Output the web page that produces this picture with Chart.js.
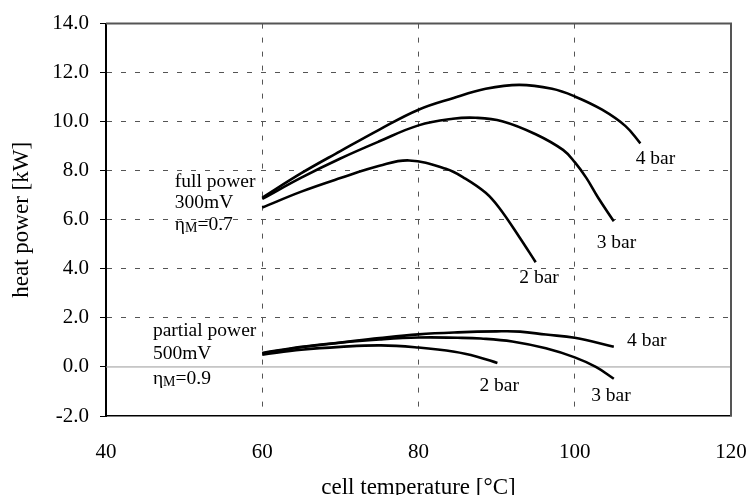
<!DOCTYPE html>
<html>
<head>
<meta charset="utf-8">
<script src="https://cdn.jsdelivr.net/npm/chart.js@4/dist/chart.umd.min.js"></script>
<style>
  html, body { margin: 0; padding: 0; background: #fff; }
</style>
</head>
<body>
<canvas id="heatChart" width="750" height="495"></canvas>
<script>
// full power (300 mV)
const full4X = [60, 65, 70, 75, 80, 84.4, 88.6, 92.9, 97.1, 100, 103.5, 106.5, 108.4];
const full4Y = [6.9, 7.9, 8.8, 9.68, 10.49, 10.96, 11.34, 11.5, 11.34, 11.03, 10.49, 9.82, 9.12];
const full3X = [60, 65, 70, 75, 80, 84.4, 87.3, 90.7, 95, 98.5, 100, 101.5, 103, 105];
const full3Y = [6.85, 7.72, 8.5, 9.2, 9.85, 10.12, 10.16, 10.02, 9.49, 8.85, 8.35, 7.7, 6.9, 5.94];
const full2X = [60, 65, 70, 75, 78.8, 83.5, 86, 88.6, 90.3, 92.9, 95];
const full2Y = [6.5, 7.15, 7.7, 8.2, 8.42, 8.08, 7.68, 7.1, 6.5, 5.3, 4.27];

// partial power (500 mV)
const part4X = [60, 65, 70, 75, 80, 85, 90, 93, 96.3, 100, 105];
const part4Y = [0.57, 0.82, 1.0, 1.18, 1.33, 1.41, 1.45, 1.44, 1.32, 1.19, 0.82];
const part3X = [60, 65, 70, 75, 80, 85, 88, 92, 96.3, 100, 102.7, 105];
const part3Y = [0.55, 0.8, 0.99, 1.12, 1.2, 1.19, 1.16, 1.04, 0.76, 0.39, 0.0, -0.48];
const part2X = [60, 65, 70, 75.2, 80, 84.6, 87.5, 90.1];
const part2Y = [0.5, 0.7, 0.82, 0.88, 0.79, 0.62, 0.42, 0.16];

const xTicks = [40, 60, 80, 100, 120];
const yTicks = [-2, 0, 2, 4, 6, 8, 10, 12, 14];

const serif = '"Liberation Serif", "DejaVu Serif", serif';

function toPoints(xs, ys) {
  return xs.map((x, i) => ({ x: x, y: ys[i] }));
}

function curve(label, xs, ys) {
  return {
    label: label,
    data: toPoints(xs, ys),
    borderColor: "#000",
    borderWidth: 2.6,
    pointRadius: 0,
    fill: false,
    tension: 0.4,
  };
}

// text notes placed in data units
const notes = [
  { x: 107.8, y: 8.49, parts: [{ t: "4 bar" }] },
  { x: 102.8, y: 5.07, parts: [{ t: "3 bar" }] },
  { x: 92.9, y: 3.65, parts: [{ t: "2 bar" }] },
  { x: 106.7, y: 1.06, parts: [{ t: "4 bar" }] },
  { x: 87.8, y: -0.77, parts: [{ t: "2 bar" }] },
  { x: 102.1, y: -1.17, parts: [{ t: "3 bar" }] },
  { x: 48.8, y: 7.54, parts: [{ t: "full power" }] },
  { x: 48.8, y: 6.68, parts: [{ t: "300mV" }] },
  { x: 48.8, y: 5.8, parts: [{ t: "η" }, { t: "M", sub: true }, { t: "=0.7" }] },
  { x: 46.0, y: 1.46, parts: [{ t: "partial power" }] },
  { x: 46.0, y: 0.55, parts: [{ t: "500mV" }] },
  { x: 46.0, y: -0.47, parts: [{ t: "η" }, { t: "M", sub: true }, { t: "=0.9" }] },
];

const extras = {
  id: "extras",
  beforeDatasetsDraw(chart) {
    const { ctx, chartArea, scales } = chart;
    const y0 = scales.y.getPixelForValue(0);
    ctx.save();
    ctx.strokeStyle = "#999";
    ctx.lineWidth = 1;
    ctx.beginPath();
    ctx.moveTo(chartArea.left, y0);
    ctx.lineTo(chartArea.right, y0);
    ctx.stroke();
    ctx.restore();
  },
  afterDatasetsDraw(chart) {
    const { ctx, chartArea } = chart;
    ctx.save();
    ctx.lineWidth = 2;
    ctx.strokeStyle = "#555";
    ctx.beginPath();
    ctx.moveTo(chartArea.left, chartArea.top);
    ctx.lineTo(chartArea.right, chartArea.top);
    ctx.lineTo(chartArea.right, chartArea.bottom);
    ctx.stroke();
    ctx.restore();
  },
  afterDraw(chart) {
    const { ctx, scales } = chart;
    ctx.save();
    ctx.fillStyle = "#000";
    ctx.textBaseline = "middle";
    ctx.textAlign = "left";
    notes.forEach((n) => {
      let px = scales.x.getPixelForValue(n.x);
      const py = scales.y.getPixelForValue(n.y);
      n.parts.forEach((p) => {
        ctx.font = (p.sub ? "14px " : "19.5px ") + serif;
        ctx.fillText(p.t, px, p.sub ? py + 4 : py);
        px += ctx.measureText(p.t).width;
      });
    });
    ctx.restore();
  },
};

new Chart(document.getElementById("heatChart").getContext("2d"), {
  type: "line",
  data: {
    datasets: [
      curve("full 4 bar", full4X, full4Y),
      curve("full 3 bar", full3X, full3Y),
      curve("full 2 bar", full2X, full2Y),
      curve("partial 4 bar", part4X, part4Y),
      curve("partial 3 bar", part3X, part3Y),
      curve("partial 2 bar", part2X, part2Y),
    ],
  },
  options: {
    responsive: false,
    animation: false,
    layout: { padding: { top: 18, right: 19, left: 0, bottom: 0 } },
    plugins: {
      legend: { display: false },
      tooltip: { enabled: false },
    },
    scales: {
      x: {
        type: "linear",
        min: xTicks[0],
        max: xTicks[xTicks.length - 1],
        afterBuildTicks: (scale) => {
          scale.ticks = xTicks.map((v) => ({ value: v }));
        },
        afterFit: (scale) => {
          scale.height = 79;
          scale.paddingLeft = 0;
          scale.paddingRight = 0;
        },
        ticks: {
          color: "#000",
          padding: 24,
          font: { family: serif, size: 21 },
        },
        grid: {
          color: (c) =>
            c.tick && (c.tick.value === 40 || c.tick.value === 120) ? "rgba(0,0,0,0)" : "#555",
          lineWidth: 1,
          drawTicks: false,
        },
        border: { display: true, color: "#000", width: 1.5, dash: [5, 9] },
        title: {
          display: true,
          text: "cell temperature [°C]",
          color: "#000",
          font: { family: serif, size: 23 },
          padding: { top: 0, bottom: -7 },
        },
      },
      y: {
        min: yTicks[0],
        max: yTicks[yTicks.length - 1],
        afterBuildTicks: (scale) => {
          scale.ticks = yTicks.map((v) => ({ value: v }));
        },
        afterFit: (scale) => {
          scale.width = 106;
        },
        ticks: {
          color: "#000",
          padding: 11,
          font: { family: serif, size: 21 },
          callback: (v) => Number(v).toFixed(1),
        },
        grid: {
          color: (c) =>
            c.tick && (c.tick.value === 0 || c.tick.value === 14 || c.tick.value === -2)
              ? "rgba(0,0,0,0)"
              : "#555",
          lineWidth: 1,
          drawTicks: true,
          tickLength: 6,
          tickColor: "#000",
          tickBorderDash: [],
        },
        border: { display: true, color: "#000", width: 2, dash: [5, 9] },
        title: {
          display: true,
          text: "heat power [kW]",
          color: "#000",
          font: { family: serif, size: 23 },
          padding: { top: 8, bottom: 0 },
        },
      },
    },
  },
  plugins: [extras],
});
</script>
</body>
</html>
